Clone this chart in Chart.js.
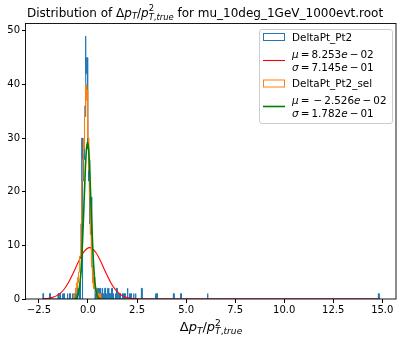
<!DOCTYPE html>
<html lang="en">
<head>
  <meta charset="UTF-8">
  <title>DeltaPt distribution</title>
  <script src="https://cdn.jsdelivr.net/npm/chart.js"></script>
  <style>
    html, body { margin: 0; padding: 0; background: #fff; }
  </style>
</head>
<body>
<canvas id="myChart" width="399" height="338"></canvas>

<script>
  // --- DeltaPt_Pt2 (all), bin width 0.0343, left edges of non-empty bins ---
  const blueRange = [-2.30, 14.84];
  const blueWidth = 0.0343;
  const blueLeft = [
    -2.30, -1.96, -1.53, -1.44, -1.31, -1.24, -1.06, -0.94, -0.80, -0.72, -0.65, -0.58, -0.52, -0.49,
    -0.450, -0.416, -0.381, -0.347, -0.313, -0.278, -0.244, -0.210, -0.176, -0.141, -0.107, -0.073,
    -0.038, -0.004, 0.030, 0.064, 0.099, 0.133, 0.167, 0.202, 0.236, 0.270, 0.304, 0.339,
    0.41, 0.48, 0.55, 0.59, 0.66, 0.72, 0.79, 0.86, 0.93, 1.00, 1.07, 1.14, 1.21, 1.28, 1.38, 1.45,
    1.55, 1.62, 1.76, 1.86, 2.00, 2.10, 2.17, 2.31, 2.41, 2.72, 3.43, 3.50, 4.35, 4.72, 6.08, 14.80
  ];
  const blueCount = [
    1, 1, 1, 1, 1, 1, 1, 1, 1, 1, 2, 1, 2, 1,
    3, 2, 5, 10, 30, 22, 27, 26, 34, 49, 42, 45,
    36, 28, 22, 26, 14, 19, 9, 6, 4, 3, 2, 2,
    1, 2, 1, 2, 1, 2, 1, 2, 1, 2, 1, 1, 2, 1, 1, 2,
    1, 1, 1, 1, 2, 1, 1, 1, 1, 2, 1, 1, 1, 1, 1, 1
  ];

  // --- DeltaPt_Pt2_sel, contiguous bins from orangeStart ---
  const orangeStart = -0.72;
  const orangeWidth = 0.0275;
  const orangeCount = [
    1, 0, 1, 2, 1, 3, 2, 4, 3, 5, 6, 8, 10, 14, 18, 22, 26, 30, 28, 34, 36, 38, 40, 37, 39,
    35, 30, 27, 24, 19, 15, 12, 8, 6, 4, 3, 2, 4, 3, 2, 1, 2, 1, 0, 1, 0, 1, 0, 1, 1
  ];

  // --- gaussian fit curves ---
  const redX = [-2.30, -2.0, -1.75, -1.5, -1.25, -1.0, -0.75, -0.5, -0.25, 0.083, 0.4, 0.65, 0.9,
                1.15, 1.4, 1.65, 1.9, 2.15, 2.4, 2.7, 3.0, 14.84];
  const redY = [0.04, 0.14, 0.36, 0.82, 1.68, 3.03, 4.85, 6.86, 8.59, 9.57, 8.67, 6.98, 4.98,
                3.14, 1.75, 0.86, 0.38, 0.15, 0.05, 0.01, 0, 0];
  const greenX = [-0.72, -0.6, -0.5, -0.4, -0.3, -0.2, -0.1, -0.025, 0.05, 0.15, 0.25, 0.35, 0.45, 0.55, 0.65];
  const greenY = [0.01, 0.16, 0.83, 3.19, 8.89, 18.07, 26.8, 29.3, 26.8, 18.07, 8.89, 3.19, 0.83, 0.16, 0.02];

  const xTicks = [-2.5, 0, 2.5, 5, 7.5, 10, 12.5, 15];
  const yTicks = [0, 10, 20, 30, 40, 50];

  const FONT = "'DejaVu Sans', sans-serif";
  const TS = '\u2009';   // thin space, like mathtext operator spacing

  // step outline like matplotlib histtype='step'
  function stepOutline(lefts, counts, width, lo, hi) {
    const pts = [{x: lo, y: 0}];
    let prev = lo;
    for (let i = 0; i < lefts.length; i++) {
      const l = Math.max(lefts[i], prev);
      const c = counts[i];
      if (l > prev + 1e-9) pts.push({x: prev, y: 0}, {x: l, y: 0});
      pts.push({x: l, y: c}, {x: l + width, y: c});
      prev = l + width;
    }
    pts.push({x: prev, y: 0}, {x: hi, y: 0});
    return pts;
  }

  const blueData = stepOutline(blueLeft, blueCount, blueWidth, blueRange[0], blueRange[1]);
  const orangeLeft = orangeCount.map((c, i) => orangeStart + i * orangeWidth);
  const orangeData = stepOutline(orangeLeft, orangeCount, orangeWidth, orangeStart,
                                 orangeStart + orangeCount.length * orangeWidth);
  const redData = redX.map((x, i) => ({x: x, y: redY[i]}));
  const greenData = greenX.map((x, i) => ({x: x, y: greenY[i]}));

  // mathtext-ish pieces: {t, it, s, dy} or a stacked {sup, sub}
  function ratioParts() {
    return [
      {t: 'Δ'}, {t: 'p', it: 1}, {t: 'T', it: 1, s: 0.7, dy: 0.2}, {t: '/'}, {t: 'p', it: 1},
      {sup: '2', sub: [{t: 'T', it: 1}, {t: ','}, {t: 'true', it: 1}]}
    ];
  }

  function partsWidth(ctx, parts, size) {
    let w = 0;
    parts.forEach(p => {
      if (p.sup) {
        ctx.font = (size * 0.7) + 'px ' + FONT;
        const a = ctx.measureText(p.sup).width;
        let b = 0;
        p.sub.forEach(q => { ctx.font = (q.it ? 'italic ' : '') + (size * 0.7) + 'px ' + FONT; b += ctx.measureText(q.t).width; });
        w += Math.max(a, b);
      } else {
        ctx.font = (p.it ? 'italic ' : '') + (size * (p.s || 1)) + 'px ' + FONT;
        w += ctx.measureText(p.t).width;
      }
    });
    return w;
  }
  function drawParts(ctx, parts, x, y, size, align) {
    const total = partsWidth(ctx, parts, size);
    let cx = align === 'center' ? x - total / 2 : x;
    ctx.textBaseline = 'alphabetic';
    ctx.textAlign = 'left';
    parts.forEach(p => {
      if (p.sup) {
        ctx.font = (size * 0.7) + 'px ' + FONT;
        ctx.fillText(p.sup, cx, y - 0.42 * size);
        const a = ctx.measureText(p.sup).width;
        let sx = cx;
        p.sub.forEach(q => {
          ctx.font = (q.it ? 'italic ' : '') + (size * 0.7) + 'px ' + FONT;
          ctx.fillText(q.t, sx, y + 0.26 * size);
          sx += ctx.measureText(q.t).width;
        });
        cx += Math.max(a, sx - cx);
      } else {
        ctx.font = (p.it ? 'italic ' : '') + (size * (p.s || 1)) + 'px ' + FONT;
        ctx.fillText(p.t, cx, y + (p.dy || 0) * size);
        cx += ctx.measureText(p.t).width;
      }
    });
  }

  const legendItems = [
    {kind: 'patch', color: '#1f77b4', y: 37, lines: [[{t: 'DeltaPt_Pt2'}]]},
    {kind: 'line', color: '#ff0000', width: 1.1, y: 60.5, lines: [
      [{t: 'μ', it: 1}, {t: TS + '=' + TS + '8.253'}, {t: 'e', it: 1}, {t: TS + '−' + TS + '02'}],
      [{t: 'σ', it: 1}, {t: TS + '=' + TS + '7.145'}, {t: 'e', it: 1}, {t: TS + '−' + TS + '01'}]]},
    {kind: 'patch', color: '#ff7f0e', y: 83.5, lines: [[{t: 'DeltaPt_Pt2_sel'}]]},
    {kind: 'line', color: '#008000', width: 1.6, y: 106.5, lines: [
      [{t: 'μ', it: 1}, {t: TS + '=' + TS + TS + '−' + TS + '2.526'}, {t: 'e', it: 1}, {t: TS + '−' + TS + '02'}],
      [{t: 'σ', it: 1}, {t: TS + '=' + TS + '1.782'}, {t: 'e', it: 1}, {t: TS + '−' + TS + '01'}]]}
  ];

  const decor = {
    id: 'decor',
    afterDatasetsDraw(chart) {
      const c = chart.ctx, a = chart.chartArea;
      c.save();
      // axes frame
      c.strokeStyle = '#000';
      c.lineWidth = 0.9;
      c.strokeRect(a.left - 0.5, a.top + 0.5, a.right - a.left + 0.5, a.bottom - a.top - 0.5);

      // legend
      c.fillStyle = 'rgba(255,255,255,0.8)';
      c.strokeStyle = '#cccccc';
      c.lineWidth = 1;
      c.beginPath();
      c.roundRect(259.5, 29.5, 133, 94, 2.5);
      c.fill();
      c.stroke();
      const size = 10.4;
      legendItems.forEach(it => {
        c.strokeStyle = it.color;
        if (it.kind === 'patch') {
          c.lineWidth = 1;
          c.strokeRect(263.5, it.y - 3.5, 21, 7);
        } else {
          c.lineWidth = it.width;
          c.beginPath();
          c.moveTo(263, it.y);
          c.lineTo(285, it.y);
          c.stroke();
        }
        c.fillStyle = '#000';
        if (it.lines.length === 1) {
          drawParts(c, it.lines[0], 292, it.y + 3.8, size, 'left');
        } else {
          drawParts(c, it.lines[0], 292, it.y - 3, size, 'left');
          drawParts(c, it.lines[1], 292, it.y + 10.5, size, 'left');
        }
      });

      // title and x label
      c.fillStyle = '#000';
      const title = [{t: 'Distribution of '}].concat(ratioParts())
        .concat([{t: ' for mu_10deg_1GeV_1000evt.root'}]);
      drawParts(c, title, (a.left + a.right) / 2 - 6, 16.5, 12, 'center');
      drawParts(c, ratioParts(), (a.left + a.right) / 2, 331, 13, 'center');
      c.restore();
    }
  };

  const ctx = document.getElementById('myChart').getContext('2d');
  const myChart = new Chart(ctx, {
    type: 'line',
    data: {
      datasets: [
        {label: 'green fit', data: greenData, borderColor: '#008000', borderWidth: 1.6,
         cubicInterpolationMode: 'monotone', order: 0},
        {label: 'DeltaPt_Pt2_sel', data: orangeData, borderColor: '#ff7f0e', borderWidth: 1, order: 1},
        {label: 'red fit', data: redData, borderColor: '#ff0000', borderWidth: 1.1,
         cubicInterpolationMode: 'monotone', order: 2},
        {label: 'DeltaPt_Pt2', data: blueData, borderColor: '#1f77b4', borderWidth: 1, order: 3}
      ]
    },
    options: {
      responsive: false,
      animation: false,
      devicePixelRatio: 1,
      layout: {padding: {top: 23, right: 3, left: 0, bottom: 0}},
      elements: {point: {radius: 0}, line: {tension: 0, fill: false}},
      plugins: {legend: {display: false}, title: {display: false}, tooltip: {enabled: false}},
      scales: {
        x: {
          type: 'linear', min: -3.16, max: 15.70,
          afterBuildTicks: s => { s.ticks = xTicks.map(v => ({value: v})); },
          afterFit: s => { s.height = 39; },
          ticks: {
            callback: v => v.toFixed(1).replace('-', '\u2212'),
            font: {family: FONT, size: 10}, color: '#000', padding: 1,
            maxRotation: 0, autoSkip: false
          },
          grid: {drawOnChartArea: false, tickLength: 4, color: '#000'},
          border: {display: false}
        },
        y: {
          min: 0, max: 51.45,
          afterBuildTicks: s => { s.ticks = yTicks.map(v => ({value: v})); },
          afterFit: s => { s.width = 26; },
          ticks: {font: {family: FONT, size: 10}, color: '#000', padding: 2},
          grid: {drawOnChartArea: false, tickLength: 4, color: '#000'},
          border: {display: false}
        }
      }
    },
    plugins: [decor]
  });
</script>

</body>
</html>
